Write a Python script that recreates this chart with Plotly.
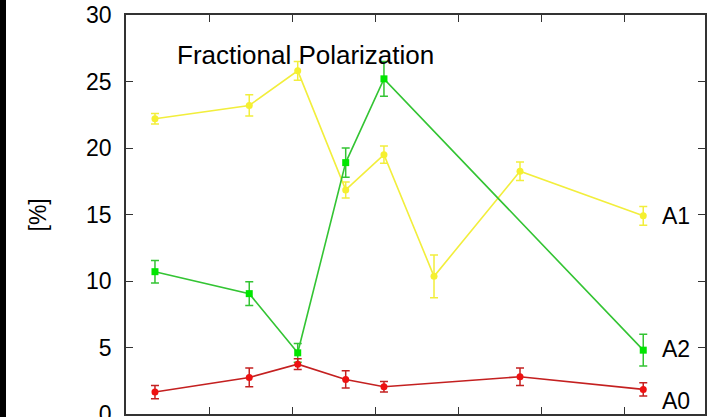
import plotly.graph_objects as go

# ---- data ----
x_all = [0.337, 1.473, 2.057, 2.635, 3.096, 3.699, 4.735, 6.22]

a1_x = x_all
a1_y = [22.2, 23.2, 25.8, 16.85, 19.5, 10.35, 18.25, 14.9]
a1_err = [0.4, 0.8, 0.7, 0.6, 0.65, 1.6, 0.7, 0.7]

a2_x = [x_all[i] for i in (0, 1, 2, 3, 4, 7)]
a2_y = [10.7, 9.05, 4.6, 18.9, 25.2, 4.8]
a2_err = [0.85, 0.9, 0.7, 1.1, 1.3, 1.2]

a0_x = [x_all[i] for i in (0, 1, 2, 3, 4, 6, 7)]
a0_y = [1.65, 2.75, 3.75, 2.6, 2.05, 2.8, 1.85]
a0_err = [0.5, 0.7, 0.4, 0.65, 0.4, 0.65, 0.5]

y_ticks = [0, 5, 10, 15, 20, 25, 30]
x_ticks = [1, 2, 3, 4, 5, 6]

series = [
    ("A1", a1_x, a1_y, a1_err, "#f2ee3c", "#f5f030", "circle", 14.9),
    ("A2", a2_x, a2_y, a2_err, "#33c433", "#00e600", "square", 4.9),
    ("A0", a0_x, a0_y, a0_err, "#c42020", "#ee1111", "circle", 0.95),
]

FONT = "Liberation Sans, Arial, Helvetica, sans-serif"

fig = go.Figure()
for name, xs, ys, es, lc, mc, sym, ly in series:
    fig.add_trace(go.Scatter(
        x=xs, y=ys, mode="lines+markers", name=name,
        line=dict(color=lc, width=1.6),
        marker=dict(color=mc, size=7, symbol=sym),
        error_y=dict(type="data", array=es, visible=True, color=lc, thickness=1.5, width=4),
        showlegend=False,
    ))
    fig.add_annotation(x=6.42, y=ly, text=name, showarrow=False, xanchor="left",
                       yanchor="middle", font=dict(family=FONT, size=23, color="black"))

fig.add_annotation(x=0.58, y=27.0, text="Fractional Polarization", showarrow=False,
                   xanchor="left", yanchor="middle",
                   font=dict(family=FONT, size=26, color="black"))

fig.add_annotation(xref="paper", yref="paper", x=-0.152, y=0.5, text="[%]",
                   textangle=-90, showarrow=False, xanchor="center", yanchor="middle",
                   font=dict(family=FONT, size=23, color="black"))

# black strip at the far left
fig.add_shape(type="rect", xref="paper", yref="paper",
              x0=-0.25, x1=-120 / 579, y0=-0.05, y1=1.1,
              fillcolor="black", line=dict(width=0), layer="above")

fig.update_layout(
    width=714, height=417,
    margin=dict(l=126, r=9, t=15, b=3, autoexpand=False),
    paper_bgcolor="white", plot_bgcolor="white",
    font=dict(family=FONT, color="black"),
    xaxis=dict(range=[-0.012, 6.964], tickvals=x_ticks, showticklabels=False,
               ticks="inside", ticklen=7, tickcolor="#333", tickwidth=1.2,
               showline=True, linecolor="#333", linewidth=1.5, mirror="ticks",
               showgrid=False, zeroline=False, automargin=False),
    yaxis=dict(range=[0, 30], tickvals=y_ticks, ticks="inside", ticklen=7,
               tickcolor="#333", tickwidth=1.2,
               showline=True, linecolor="#333", linewidth=1.5, mirror="ticks",
               showgrid=False, zeroline=False, automargin=False,
               tickfont=dict(family=FONT, size=23, color="black"),
               ticklabelstandoff=8, ticklabeloverflow="allow"),
)

fig.write_html("out.html")
